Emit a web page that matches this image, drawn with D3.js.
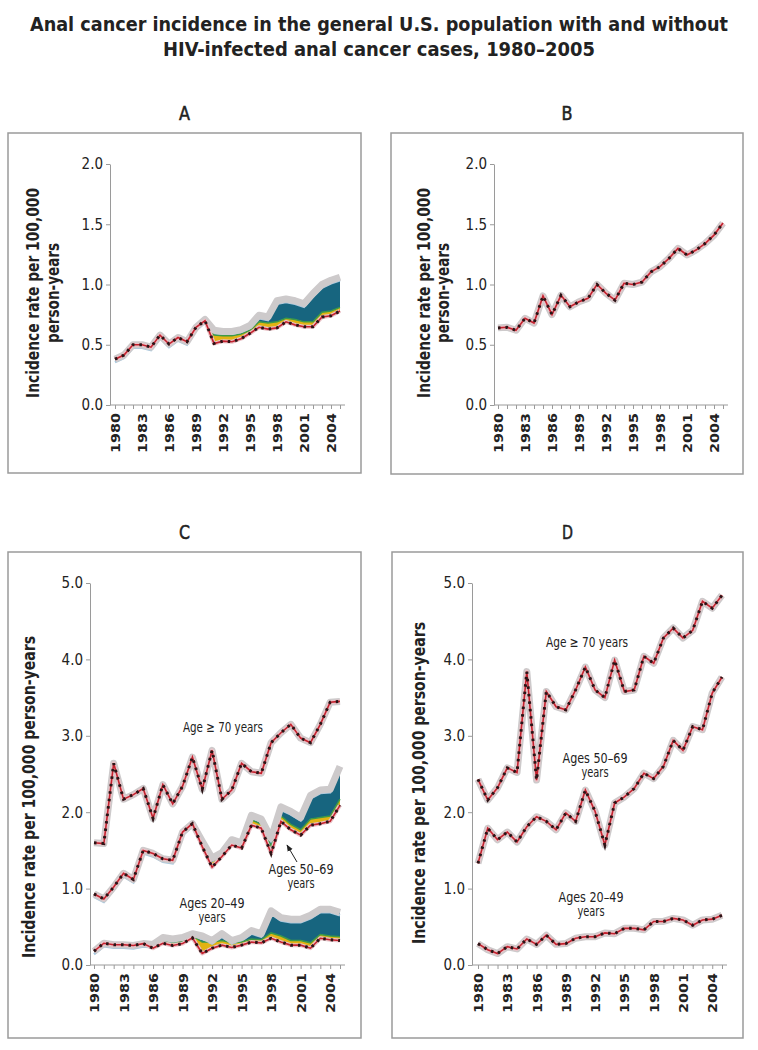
<!DOCTYPE html>
<html>
<head>
<meta charset="utf-8">
<script src="https://cdn.jsdelivr.net/npm/d3@7/dist/d3.min.js"></script>
<style>
  body { margin: 0; background: #fff; }
  svg text { font-family: "DejaVu Sans Condensed", "DejaVu Sans", sans-serif; font-stretch: condensed; }
</style>
</head>
<body>
<div id="chart"></div>
<script>
const years = [1980,1981,1982,1983,1984,1985,1986,1987,1988,1989,1990,1991,1992,1993,1994,1995,1996,1997,1998,1999,2000,2001,2002,2003,2004,2005];
const tickYears = [1980,1983,1986,1989,1992,1995,1998,2001,2004];
const yTicksAB = [0, 0.5, 1, 1.5, 2];
const yTicksCD = [0, 1, 2, 3, 4, 5];

// A: all ages, with (total) and without HIV-infected cases
const aTotal = [0.38,0.415,0.50,0.50,0.48,0.58,0.506,0.56,0.525,0.645,0.71,0.62,0.61,0.61,0.625,0.66,0.745,0.73,0.865,0.88,0.865,0.84,0.925,1.0,1.035,1.06];
const aMid   = [0.38,0.415,0.50,0.50,0.48,0.58,0.506,0.56,0.525,0.645,0.70,0.58,0.575,0.575,0.59,0.62,0.69,0.68,0.69,0.72,0.71,0.69,0.69,0.77,0.78,0.81];
const aNoHiv = [0.38,0.415,0.50,0.50,0.48,0.58,0.506,0.56,0.525,0.645,0.70,0.51,0.53,0.525,0.55,0.595,0.645,0.63,0.64,0.69,0.665,0.65,0.65,0.73,0.74,0.78];

// B: all ages
const bAll = [0.64,0.645,0.62,0.72,0.68,0.905,0.75,0.91,0.815,0.857,0.885,1.0,0.927,0.87,1.01,1.0,1.02,1.105,1.148,1.217,1.30,1.245,1.286,1.34,1.41,1.51];

// C: by age group, with and without HIV-infected cases
const cOld      = [1.60,1.59,2.64,2.17,2.23,2.31,1.92,2.36,2.11,2.34,2.72,2.30,2.81,2.17,2.29,2.64,2.53,2.51,2.91,3.04,3.15,2.97,2.91,3.15,3.44,3.45];
const cMidTotal = [0.93,0.865,1.02,1.20,1.12,1.50,1.46,1.39,1.37,1.74,1.85,1.62,1.40,1.47,1.64,1.60,1.96,1.91,1.66,2.07,2.01,1.93,2.22,2.29,2.30,2.60];
const cMidMid   = [0.93,0.865,1.02,1.20,1.12,1.50,1.46,1.39,1.37,1.74,1.85,1.58,1.36,1.45,1.61,1.57,1.90,1.84,1.55,1.95,1.84,1.77,1.91,1.93,1.95,2.17];
const cMidNoHiv = [0.93,0.865,1.02,1.20,1.12,1.50,1.46,1.39,1.37,1.74,1.85,1.55,1.28,1.42,1.57,1.53,1.83,1.79,1.46,1.88,1.77,1.70,1.83,1.85,1.88,2.09];
const cYngTotal = [0.18,0.285,0.265,0.265,0.255,0.28,0.27,0.36,0.34,0.36,0.41,0.38,0.32,0.41,0.32,0.36,0.45,0.41,0.71,0.62,0.60,0.60,0.65,0.73,0.73,0.69];
const cYngMid   = [0.18,0.285,0.265,0.265,0.255,0.28,0.25,0.32,0.30,0.31,0.38,0.30,0.30,0.32,0.29,0.30,0.34,0.33,0.42,0.38,0.32,0.32,0.29,0.40,0.38,0.37];
const cYngNoHiv = [0.18,0.285,0.265,0.265,0.255,0.28,0.22,0.285,0.255,0.28,0.355,0.15,0.22,0.26,0.23,0.26,0.30,0.29,0.35,0.30,0.26,0.26,0.22,0.35,0.33,0.32];

// D: by age group
const dOld = [2.43,2.16,2.32,2.58,2.52,3.84,2.42,3.58,3.38,3.34,3.60,3.90,3.60,3.50,3.99,3.58,3.60,4.04,3.95,4.28,4.41,4.28,4.38,4.76,4.67,4.84];
const dMid = [1.33,1.79,1.64,1.74,1.61,1.81,1.94,1.88,1.77,1.99,1.88,2.29,2.01,1.57,2.12,2.20,2.31,2.51,2.44,2.60,2.94,2.81,3.12,3.08,3.56,3.77];
const dYng = [0.28,0.20,0.15,0.24,0.21,0.34,0.27,0.39,0.27,0.28,0.35,0.37,0.37,0.42,0.41,0.48,0.48,0.46,0.57,0.57,0.61,0.59,0.52,0.59,0.60,0.65];

const W = 758, H = 1050;
const svg = d3.select("#chart").append("svg").attr("width", W).attr("height", H);

svg.append("defs").append("marker")
  .attr("id", "arrow").attr("viewBox", "0 0 10 10").attr("refX", 9).attr("refY", 5)
  .attr("markerWidth", 7).attr("markerHeight", 7).attr("orient", "auto-start-reverse")
  .append("path").attr("d", "M0,1 L10,5 L0,9 z").attr("fill", "#222");

// title
svg.append("text").attr("x", 379).attr("y", 31).attr("text-anchor", "middle")
  .attr("font-size", 20).attr("font-weight", "bold").attr("fill", "#222")
  .attr("textLength", 698).attr("lengthAdjust", "spacingAndGlyphs")
  .text("Anal cancer incidence in the general U.S. population with and without");
svg.append("text").attr("x", 379).attr("y", 56).attr("text-anchor", "middle")
  .attr("font-size", 20).attr("font-weight", "bold").attr("fill", "#222")
  .attr("textLength", 432).attr("lengthAdjust", "spacingAndGlyphs")
  .text("HIV-infected anal cancer cases, 1980\u20132005");

const panels = [
  {letter: "A", box: [8,133,361,473], axisX: 110, xr: [115,340], yr: [405,164], ymax: 2, yticks: yTicksAB,
   titleX: [33,53], titleY: 293, titleLines: ["Incidence rate per 100,000", "person-years"], titleLen: [210, 100]},
  {letter: "B", box: [391,133,743,474], axisX: 494, xr: [498,723], yr: [405,164], ymax: 2, yticks: yTicksAB,
   titleX: [424,443], titleY: 293, titleLines: ["Incidence rate per 100,000", "person-years"], titleLen: [210, 100]},
  {letter: "C", box: [8,552,361,1038], axisX: 90, xr: [94,340], yr: [965,583], ymax: 5, yticks: yTicksCD,
   titleX: [29], titleY: 797, titleLines: ["Incidence rate per 100,000 person-years"], titleLen: [322]},
  {letter: "D", box: [392,552,743,1038], axisX: 472, xr: [478,722], yr: [965,583], ymax: 5, yticks: yTicksCD,
   titleX: [419], titleY: 783, titleLines: ["Incidence rate per 100,000 person-years"], titleLen: [322]}
];

function drawPanel(p) {
  const g = svg.append("g");
  const [bx0, by0, bx1, by1] = p.box;
  g.append("rect").attr("x", bx0).attr("y", by0).attr("width", bx1 - bx0).attr("height", by1 - by0)
    .attr("fill", "none").attr("stroke", "#9a9a9a").attr("stroke-width", 1.5);
  g.append("text").attr("x", (bx0 + bx1) / 2).attr("y", by0 - 13).attr("text-anchor", "middle")
    .attr("font-size", 19).attr("fill", "#222").attr("textLength", 11).attr("lengthAdjust", "spacingAndGlyphs")
    .attr("stroke", "#222").attr("stroke-width", 0.5).text(p.letter);

  const x = d3.scaleLinear().domain([1980, 2005]).range(p.xr);
  const y = d3.scaleLinear().domain([0, p.ymax]).range(p.yr);

  const yAxis = d3.axisLeft(y).tickValues(p.yticks).tickFormat(d3.format(".1f")).tickSize(4).tickSizeOuter(0).tickPadding(3);
  const ya = g.append("g").attr("transform", `translate(${p.axisX},0)`).call(yAxis);
  ya.select(".domain").attr("stroke", "#9a9a9a");
  ya.selectAll(".tick line").attr("stroke", "#9a9a9a");
  ya.selectAll("text").attr("font-size", 15).attr("fill", "#222").style("font-family", null);

  const xAxis = d3.axisBottom(x).tickValues(years).tickSize(4).tickSizeOuter(0)
    .tickFormat(d => tickYears.includes(d) ? d : "");
  const xa = g.append("g").attr("transform", `translate(0,${p.yr[0]})`).call(xAxis);
  xa.select(".domain").remove();
  xa.append("line").attr("x1", p.axisX).attr("x2", p.xr[1] + 5).attr("stroke", "#9a9a9a");
  xa.selectAll(".tick line").attr("stroke", "#9a9a9a");
  xa.selectAll(".tick text").filter(d => tickYears.includes(d))
    .attr("font-size", 13).attr("font-weight", "bold").attr("fill", "#222")
    .attr("transform", "rotate(-90)").attr("x", -8).attr("y", 0).attr("dy", "0.35em")
    .attr("textLength", 40).attr("lengthAdjust", "spacingAndGlyphs")
    .style("text-anchor", "end");

  p.titleLines.forEach((t, i) => {
    g.append("text").attr("transform", `translate(${p.titleX[i]},${p.titleY}) rotate(-90)`)
      .attr("text-anchor", "middle").attr("dominant-baseline", "central")
      .attr("font-size", 17).attr("font-weight", "bold").attr("fill", "#222")
      .attr("textLength", p.titleLen[i]).attr("lengthAdjust", "spacingAndGlyphs").text(t);
  });
  return {g, x, y};
}

function drawSeries(ctx, total, mid, noHiv) {
  const {g, x, y} = ctx;
  const idx = years.map((yr, i) => i);
  const line = arr => d3.line().x(i => x(years[i])).y(i => y(arr[i]))(idx);
  if (mid) {
    g.append("path").attr("fill", "#17657f")
      .attr("d", d3.area().x(i => x(years[i])).y0(i => y(mid[i])).y1(i => y(total[i]))(idx));
    g.append("path").attr("fill", "#e2b312")
      .attr("d", d3.area().x(i => x(years[i])).y0(i => y(noHiv[i])).y1(i => y(mid[i]))(idx));
    g.append("path").attr("d", line(total)).attr("fill", "none").attr("stroke", "#a6c8df")
      .attr("stroke-width", 2.5).attr("transform", "translate(0,3)");
    g.append("path").attr("d", line(mid)).attr("fill", "none").attr("stroke", "#3d9a47").attr("stroke-width", 1.5);
  }
  g.append("path").attr("d", line(total)).attr("fill", "none").attr("stroke", "#cdcacb")
    .attr("stroke-width", 7).attr("stroke-linejoin", "round");
  g.append("path").attr("d", line(noHiv)).attr("fill", "none").attr("stroke", "#e9c3c8")
    .attr("stroke-width", 4).attr("stroke-linejoin", "round");
  g.append("path").attr("d", line(noHiv)).attr("fill", "none").attr("stroke", "#c4222e")
    .attr("stroke-width", 1.6);
  g.append("path").attr("d", line(noHiv)).attr("fill", "none").attr("stroke", "#2a1416")
    .attr("stroke-width", 3).attr("stroke-dasharray", "2.5,5");
}

function label(ctx, lines, widths, cx, cy) {
  lines.forEach((t, i) => {
    ctx.g.append("text").attr("x", cx).attr("y", cy + i * 14).attr("text-anchor", "middle")
      .attr("dominant-baseline", "central").attr("font-size", 14).attr("fill", "#222")
      .attr("textLength", widths[i]).attr("lengthAdjust", "spacingAndGlyphs").text(t);
  });
}

const pA = drawPanel(panels[0]);
drawSeries(pA, aTotal, aMid, aNoHiv);

const pB = drawPanel(panels[1]);
drawSeries(pB, bAll, null, bAll);

const pC = drawPanel(panels[2]);
drawSeries(pC, cOld, null, cOld);
drawSeries(pC, cMidTotal, cMidMid, cMidNoHiv);
drawSeries(pC, cYngTotal, cYngMid, cYngNoHiv);
label(pC, ["Age \u2265 70 years"], [80], 223, 727);
label(pC, ["Ages 50\u201369", "years"], [65, 27], 301, 869);
label(pC, ["Ages 20\u201349", "years"], [65, 27], 212, 903);
pC.g.append("line").attr("x1", 297).attr("y1", 862).attr("x2", 287).attr("y2", 845)
  .attr("stroke", "#222").attr("stroke-width", 1).attr("marker-end", "url(#arrow)");

const pD = drawPanel(panels[3]);
drawSeries(pD, dOld, null, dOld);
drawSeries(pD, dMid, null, dMid);
drawSeries(pD, dYng, null, dYng);
label(pD, ["Age \u2265 70 years"], [82], 587, 642);
label(pD, ["Ages 50\u201369", "years"], [65, 27], 595, 758);
label(pD, ["Ages 20\u201349", "years"], [65, 27], 591, 897);
</script>
</body>
</html>
